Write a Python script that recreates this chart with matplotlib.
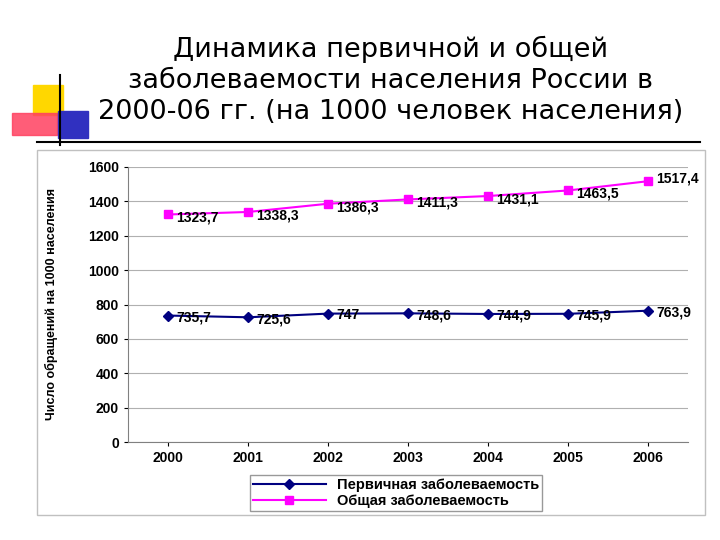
import matplotlib
matplotlib.use("Agg")
import matplotlib.pyplot as plt
from matplotlib.patches import Rectangle
from matplotlib.lines import Line2D

years = ["2000", "2001", "2002", "2003", "2004", "2005", "2006"]
primary = [735.7, 725.6, 747, 748.6, 744.9, 745.9, 763.9]
general = [1323.7, 1338.3, 1386.3, 1411.3, 1431.1, 1463.5, 1517.4]
primary_lbl = ["735,7", "725,6", "747", "748,6", "744,9", "745,9", "763,9"]
general_lbl = ["1323,7", "1338,3", "1386,3", "1411,3", "1431,1", "1463,5", "1517,4"]

fig = plt.figure(figsize=(7.2, 5.4), dpi=100)
plt.rcParams['font.family'] = ['Liberation Sans', 'DejaVu Sans']

# title
fig.text(0.542, 1-80/540, "Динамика первичной и общей\nзаболеваемости населения России в\n2000-06 гг. (на 1000 человек населения)",
         ha="center", va="center", fontsize=19.5, family="DejaVu Sans", linespacing=1.25)

# decorative squares
fig.patches.append(Rectangle((33/720, 1-115/540), 30/720, 30/540, color="#ffd700", transform=fig.transFigure, figure=fig))
fig.patches.append(Rectangle((12/720, 1-135/540), 45/720, 22/540, color="#ff4060", alpha=0.85, transform=fig.transFigure, figure=fig))
fig.patches.append(Rectangle((58/720, 1-138/540), 30/720, 27/540, color="#3030c0", transform=fig.transFigure, figure=fig))
fig.add_artist(Line2D([60/720, 60/720], [1-75/540, 1-145/540], color="black", lw=1.5))
fig.add_artist(Line2D([37/720, 700/720], [1-142/540, 1-142/540], color="black", lw=1.5))

# chart frame
fig.patches.append(Rectangle((37/720, 1-515/540), 668/720, 365/540, fill=False, ec="#c0c0c0", lw=1,
                             transform=fig.transFigure, figure=fig))

ax = fig.add_axes([128/720, 1-442/540, 560/720, 275/540])
x = range(len(years))
ax.plot(x, primary, color="#000080", marker="D", ms=5, lw=1.5)
ax.plot(x, general, color="#ff00ff", marker="s", ms=6, lw=1.5)
for i in x:
    ax.text(i + 0.1, primary[i] - 10, primary_lbl[i], fontsize=10, fontweight="bold", va="center")
    ax.text(i + 0.1, general[i] - 20 if i < 6 else general[i] + 15, general_lbl[i], fontsize=10, fontweight="bold", va="center")
ax.set_xlim(-0.5, 6.5)
ax.set_ylim(0, 1600)
ax.set_yticks(range(0, 1601, 200))
ax.set_xticks(list(x))
ax.set_xticklabels(years, fontsize=10, fontweight="bold")
for t in ax.get_yticklabels():
    t.set_fontsize(10)
    t.set_fontweight("bold")
ax.grid(axis="y", color="#b0b0b0", lw=0.8)
ax.set_axisbelow(True)
for s in ["top", "right"]:
    ax.spines[s].set_visible(False)
ax.spines["left"].set_color("#808080")
ax.spines["bottom"].set_color("#808080")
ax.tick_params(length=3, colors="black")
ax.set_ylabel("Число обращений на 1000 населения", fontsize=9, fontweight="bold")
ax.yaxis.set_label_coords(-0.125, 0.5)

handles = [Line2D([], [], color="#000080", marker="D", ms=5, lw=1.5),
           Line2D([], [], color="#ff00ff", marker="s", ms=6, lw=1.5)]
leg = fig.legend(handles, ["Первичная заболеваемость", "Общая заболеваемость"],
                 loc="center", bbox_to_anchor=(0.55, 1-493/540),
                 prop={"weight": "bold", "size": 10.5}, frameon=True, fancybox=False,
                 handlelength=5, labelspacing=0.1, borderpad=0.2, edgecolor="#808080")
fig.savefig("out.png", dpi=100, facecolor="white")
